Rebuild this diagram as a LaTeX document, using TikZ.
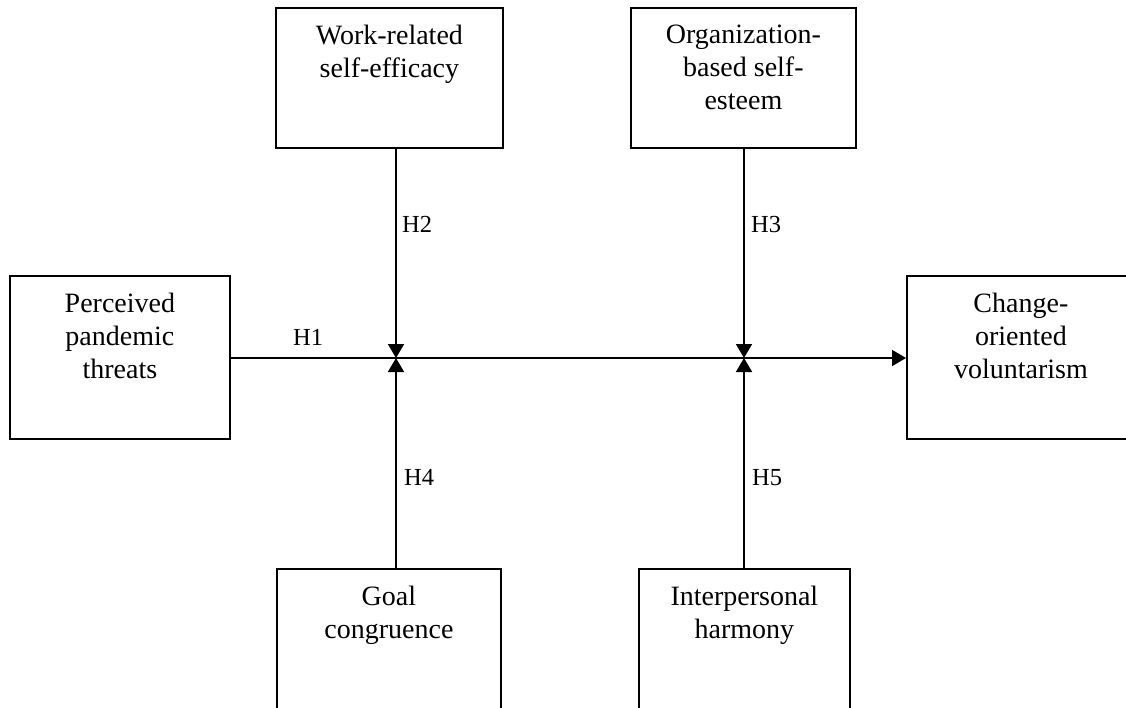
\documentclass[tikz,border=0pt]{standalone}
\usepackage{fontspec}
\setmainfont{Liberation Serif}
\usetikzlibrary{arrows.meta}
\begin{document}
\begin{tikzpicture}[x=1pt,y=-1pt,
  box/.style={draw,line width=1.8pt},
  boxtext/.style={anchor=north,align=center,inner sep=0pt,font=\fontsize{28}{33}\selectfont},
  hlabel/.style={anchor=base west,inner sep=0pt,font=\fontsize{24.5}{28}\selectfont},
  conn/.style={line width=1.8pt},
  tip/.style={-{Triangle[length=14pt,width=16pt]}}]
\useasboundingbox (0,0) rectangle (1126,707);
% boxes
\node[box,minimum width=220pt,minimum height=163pt,anchor=north west,inner sep=0pt] (L) at (9,275) {};
\node[box,minimum width=227pt,minimum height=140pt,anchor=north west,inner sep=0pt] (TL) at (275,7) {};
\node[box,minimum width=225pt,minimum height=140pt,anchor=north west,inner sep=0pt] (TR) at (630,7) {};
\node[box,minimum width=228pt,minimum height=163pt,anchor=north west,inner sep=0pt] (R) at (906,275) {};
\node[box,minimum width=224pt,minimum height=140pt,anchor=north west,inner sep=0pt] (BL) at (276,568) {};
\node[box,minimum width=211pt,minimum height=140pt,anchor=north west,inner sep=0pt] (BR) at (638,568) {};
% texts
\node[boxtext] (Lt) at ([yshift=-18pt]L.north) {Perceived\\pandemic\\threats};
\node[boxtext] (TLt) at ([yshift=-18pt]TL.north) {Work-related\\self-efficacy};
\node[boxtext] (TRt) at ([yshift=-18pt]TR.north) {Organization-\\based self-\\esteem};
\node[boxtext] (Rt) at ([yshift=-18pt]R.north) {Change-\\oriented\\voluntarism};
\node[boxtext] (BLt) at ([yshift=-18pt]BL.north) {Goal\\congruence};
\node[boxtext] (BRt) at ([yshift=-18pt]BR.north) {Interpersonal\\harmony};
% junctions
\coordinate (J1) at (396,358);
\coordinate (J2) at (744,358);
% connectors
\draw[conn,tip] (L.east |- J1) -- (R.west |- J1);
\draw[conn,tip] (TL.south -| J1) -- (J1);
\draw[conn,tip] (BL.north -| J1) -- (J1);
\draw[conn,tip] (TR.south -| J2) -- (J2);
\draw[conn,tip] (BR.north -| J2) -- (J2);
% labels
\node[hlabel] (H1) at (293,345) {H1};
\node[hlabel] (H2) at (402,232) {H2};
\node[hlabel] (H3) at (751,232) {H3};
\node[hlabel] (H4) at (404,485) {H4};
\node[hlabel] (H5) at (752,485) {H5};
\end{tikzpicture}
\end{document}
